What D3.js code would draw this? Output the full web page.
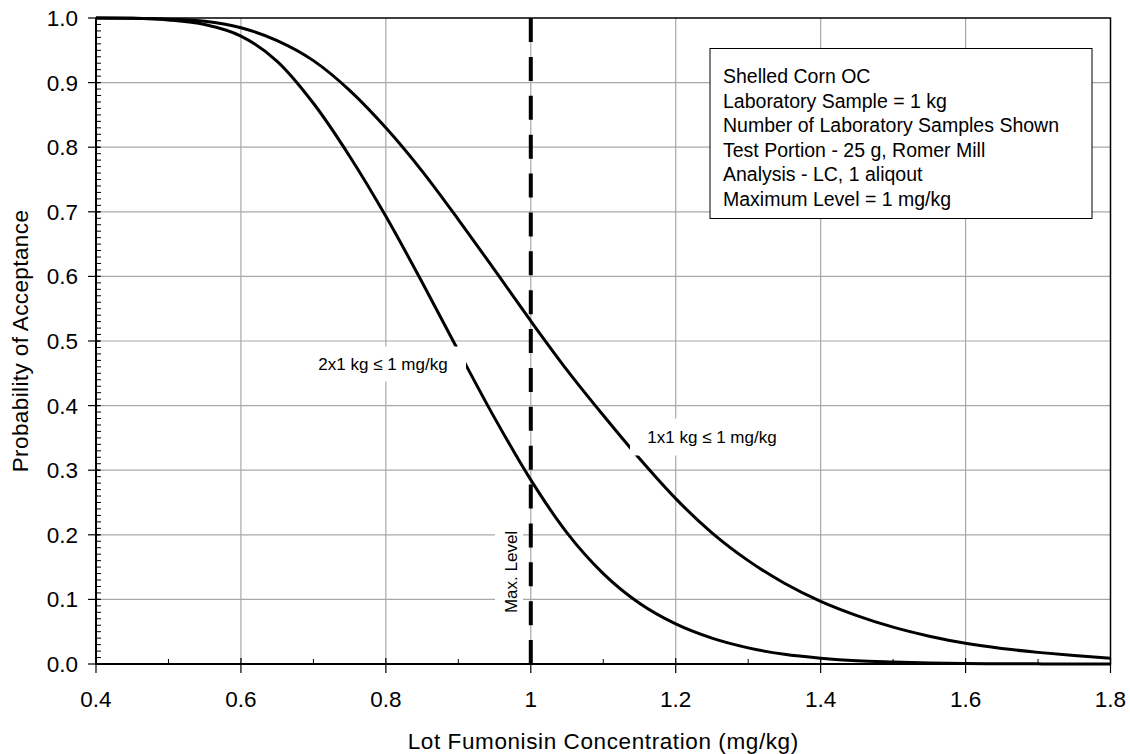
<!DOCTYPE html>
<html>
<head>
<meta charset="utf-8">
<script src="https://cdn.jsdelivr.net/npm/d3@7"></script>
<style>
  body { margin: 0; background: #fff; }
  text { font-family: "Liberation Sans", Arial, sans-serif; fill: #000; }
</style>
</head>
<body>
<svg width="1130" height="754"></svg>
<script>
// lot concentration (mg/kg)
var conc = [0.40, 0.45, 0.50, 0.55, 0.60, 0.65, 0.70, 0.75, 0.80, 0.85, 0.90, 0.95,
  1.00, 1.05, 1.10, 1.15, 1.20, 1.25, 1.30, 1.35, 1.40, 1.45, 1.50, 1.55, 1.60,
  1.65, 1.70, 1.75, 1.80];
// probability of acceptance, 1 x 1 kg sample
var oneSample = [1.000, 0.9995, 0.998, 0.995, 0.985, 0.965, 0.934, 0.888, 0.830, 0.763,
  0.688, 0.610, 0.531, 0.455, 0.385, 0.318, 0.256, 0.203, 0.160, 0.125, 0.097,
  0.075, 0.057, 0.043, 0.032, 0.024, 0.018, 0.013, 0.009];
// probability of acceptance, 2 x 1 kg samples
var twoSamples = [1.000, 0.9995, 0.997, 0.990, 0.972, 0.933, 0.868, 0.786, 0.693, 0.591,
  0.485, 0.381, 0.285, 0.203, 0.140, 0.094, 0.062, 0.040, 0.025, 0.015, 0.009,
  0.005, 0.003, 0.0015, 0.0008, 0.0004, 0.0002, 0.0001, 0.0001];
var xTicks = [0.4, 0.6, 0.8, 1.0, 1.2, 1.4, 1.6, 1.8];
var xTickLabels = ["0.4", "0.6", "0.8", "1", "1.2", "1.4", "1.6", "1.8"];
var yTicks = [0, 0.1, 0.2, 0.3, 0.4, 0.5, 0.6, 0.7, 0.8, 0.9, 1.0];
var maxLevel = 1.0;
var infoLines = ["Shelled Corn OC", "Laboratory Sample = 1 kg",
  "Number of Laboratory Samples Shown", "Test Portion - 25 g, Romer Mill",
  "Analysis - LC, 1 aliqout", "Maximum Level = 1 mg/kg"];

var svg = d3.select("svg");
var plotL = 96, plotR = 1110.5, plotT = 18, plotB = 664;

var x = d3.scaleLinear().domain([0.4, 1.8]).range([plotL, plotR]);
var y = d3.scaleLinear().domain([0, 1]).range([plotB, plotT]);

// grid
svg.append("g").selectAll("line").data(yTicks.slice(1, -1)).enter().append("line")
  .attr("x1", plotL).attr("x2", plotR)
  .attr("y1", function(d) { return y(d); }).attr("y2", function(d) { return y(d); })
  .attr("stroke", "#a8a8a8").attr("stroke-width", 1.2);
svg.append("g").selectAll("line").data(xTicks.slice(1, -1)).enter().append("line")
  .attr("y1", plotT).attr("y2", plotB)
  .attr("x1", function(d) { return x(d); }).attr("x2", function(d) { return x(d); })
  .attr("stroke", "#a8a8a8").attr("stroke-width", 1.2);

// curves
var line = d3.line()
  .x(function(d, i) { return x(conc[i]); })
  .y(function(d) { return y(d); })
  .curve(d3.curveMonotoneX);

[oneSample, twoSamples].forEach(function(s) {
  svg.append("path").datum(s).attr("d", line)
    .attr("fill", "none").attr("stroke", "#000").attr("stroke-width", 3);
});

// frame
svg.append("rect").attr("x", plotL).attr("y", plotT)
  .attr("width", plotR - plotL).attr("height", plotB - plotT)
  .attr("fill", "none").attr("stroke", "#000").attr("stroke-width", 1.5);

// y axis
var yAxis = svg.append("g");
yAxis.append("line").attr("x1", plotL).attr("x2", plotL).attr("y1", plotT).attr("y2", plotB)
  .attr("stroke", "#000").attr("stroke-width", 2);
yAxis.selectAll(".minor").data(d3.range(0, 101)).enter().append("line")
  .attr("x1", plotL).attr("x2", plotL + 5)
  .attr("y1", function(d) { return y(d / 100); }).attr("y2", function(d) { return y(d / 100); })
  .attr("stroke", "#000").attr("stroke-width", 1);
yAxis.selectAll(".major").data(yTicks).enter().append("line")
  .attr("x1", plotL - 8).attr("x2", plotL + 4)
  .attr("y1", function(d) { return y(d); }).attr("y2", function(d) { return y(d); })
  .attr("stroke", "#000").attr("stroke-width", 1.2);
yAxis.selectAll("text").data(yTicks).enter().append("text")
  .attr("x", 78).attr("y", function(d) { return y(d) + 8; })
  .attr("text-anchor", "end").attr("font-size", "22.5px")
  .text(function(d) { return d.toFixed(1); });

// x axis
var xAxis = svg.append("g");
xAxis.append("line").attr("x1", plotL).attr("x2", plotR).attr("y1", plotB).attr("y2", plotB)
  .attr("stroke", "#000").attr("stroke-width", 2);
xAxis.selectAll(".minor").data([0.5, 0.7, 0.9, 1.1, 1.3, 1.5, 1.7]).enter().append("line")
  .attr("y1", plotB).attr("y2", plotB - 5)
  .attr("x1", function(d) { return x(d); }).attr("x2", function(d) { return x(d); })
  .attr("stroke", "#000").attr("stroke-width", 1);
xAxis.selectAll(".major").data(xTicks).enter().append("line")
  .attr("y1", plotB - 6).attr("y2", plotB + 9)
  .attr("x1", function(d) { return x(d); }).attr("x2", function(d) { return x(d); })
  .attr("stroke", "#000").attr("stroke-width", 1.2);
xAxis.selectAll("text").data(xTicks).enter().append("text")
  .attr("x", function(d) { return x(d); }).attr("y", plotB + 43)
  .attr("text-anchor", "middle").attr("font-size", "22.5px")
  .text(function(d, i) { return xTickLabels[i]; });

// axis titles
svg.append("text").attr("x", (plotL + plotR) / 2).attr("y", 749)
  .attr("text-anchor", "middle").attr("font-size", "22.5px").attr("letter-spacing", "0.6px")
  .text("Lot Fumonisin Concentration (mg/kg)");
svg.append("text").attr("transform", "translate(28," + ((plotT + plotB) / 2) + ") rotate(-90)")
  .attr("text-anchor", "middle").attr("font-size", "22.5px").attr("letter-spacing", "0.4px")
  .text("Probability of Acceptance");

// curve labels with white backgrounds
function label(cx, cy, w, h, txt) {
  svg.append("rect").attr("x", cx - w / 2).attr("y", cy - h / 2)
    .attr("width", w).attr("height", h).attr("fill", "#fff");
  svg.append("text").attr("x", cx).attr("y", cy + 6)
    .attr("text-anchor", "middle").attr("font-size", "17px").text(txt);
}
label(383, 364, 166, 35, "2x1 kg \u2264 1 mg/kg");
label(712, 437, 164, 37, "1x1 kg \u2264 1 mg/kg");

// max level line (dashes meet both ends of the plot)
svg.append("line")
  .attr("x1", x(maxLevel)).attr("x2", x(maxLevel)).attr("y1", plotB).attr("y2", plotT)
  .attr("stroke", "#000").attr("stroke-width", 4).attr("stroke-dasharray", "24,14.875");
svg.append("rect").attr("x", 495).attr("y", 525).attr("width", 28).attr("height", 96)
  .attr("fill", "#fff");
svg.append("text").attr("transform", "translate(517,572) rotate(-90)")
  .attr("text-anchor", "middle").attr("font-size", "17px").text("Max. Level");

// info box
svg.append("rect").attr("x", 710).attr("y", 48.5).attr("width", 382).attr("height", 170)
  .attr("fill", "#fff").attr("stroke", "#000").attr("stroke-width", 1);
svg.append("g").selectAll("text").data(infoLines).enter().append("text")
  .attr("x", 723).attr("y", function(d, i) { return 83 + i * 24.6; })
  .attr("font-size", "19.5px").text(function(d) { return d; });
</script>
</body>
</html>
